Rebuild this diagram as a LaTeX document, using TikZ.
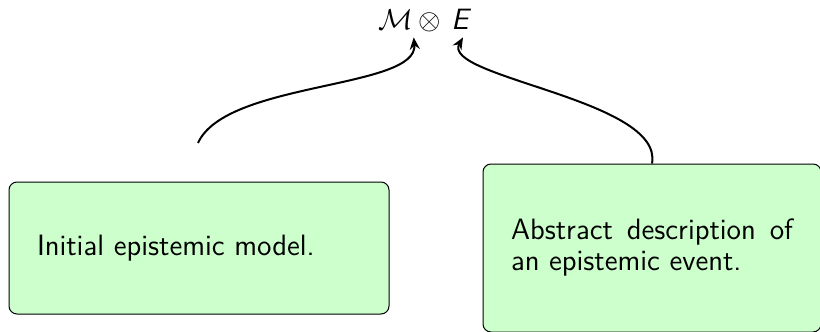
\documentclass[tikz,border=0pt]{standalone}
\usetikzlibrary{arrows.meta,calc}
\definecolor{boxfill}{RGB}{204,255,204}
\begin{document}
\begin{tikzpicture}[x=0.5pt,y=-0.5pt,
  txt/.style={font=\sffamily\fontsize{14.7}{15.5}\selectfont},
  greenbox/.style={txt,draw=black,line width=0.5pt,fill=boxfill,
    rounded corners=4pt,inner ysep=0pt},
  link/.style={line width=1pt,-{Stealth[length=6pt,width=5pt,inset=2pt]}}]
  \useasboundingbox (0,0) rectangle (820,332);

  % the product at the top
  \node[txt,anchor=base,inner sep=0pt] (M) at (396,30) {$\mathcal{M}$};
  \node[txt,anchor=base,inner sep=0pt] (ot) at (430,30) {$\otimes$};
  \node[txt,anchor=base,inner sep=0pt] (E) at (460,30) {$\mbox{\sffamily\slshape E}$};

  % the two ingredients
  \node[greenbox,minimum width=190pt,minimum height=66pt,text width=162pt,
        inner xsep=14pt,align=left] (lbox) at (199,248)
        {Initial epistemic model.};
  \node[greenbox,minimum width=169pt,minimum height=84pt,text width=141pt,
        inner xsep=14pt,align=justify] (rbox) at (652,248)
        {Abstract description of an epistemic event.};

  \coordinate (lstart) at (198,143);
  \coordinate (Mtip) at ($(M.south east)+(0,7)$);
  \coordinate (Etip) at ($(E.south)+(3,7)$);

  \draw[link] (lstart) .. controls ($(lstart)+(28,-62)$) and ($(Mtip)+(5,52)$) .. (Mtip);
  \draw[link] (rbox.north) .. controls ($(rbox.north)+(12,-64)$) and ($(Etip)+(-23,40)$) .. (Etip);
\end{tikzpicture}
\end{document}
